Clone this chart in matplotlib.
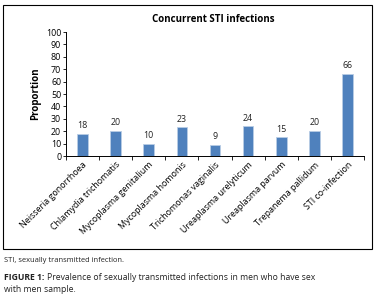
import numpy as np
import matplotlib
matplotlib.use("Agg")
import matplotlib.pyplot as plt
from matplotlib.patches import Rectangle

categories = ["Neisseria gonorrhoea", "Chlamydia trichomatis", "Mycoplasma genitalium",
              "Mycoplasma homonis", "Trichomonas vaginalis", "Ureaplasma urelyticum",
              "Ureaplasma parvum", "Trepanema pallidum", "STI co-infection"]
values = [18, 20, 10, 23, 9, 24, 15, 20, 66]

plt.rcParams['font.family'] = ['Open Sans', 'DejaVu Sans']

fig = plt.figure(figsize=(3.8, 3.0), dpi=100)
ax = fig.add_axes([66/380, 1 - 156/300, (364-66)/380, (156-32)/300])

x = np.arange(len(values))
bars = ax.bar(x, values, width=0.32, color='#4F81BD', edgecolor='#B9CDE5', linewidth=0.6)
for xi, v in zip(x, values):
    ax.text(xi, v + 3, str(v), ha='center', va='bottom', fontsize=6.4, color='#222222')

ax.set_xlim(-0.5, len(values) - 0.5)
ax.set_ylim(0, 100)
ax.set_yticks(range(0, 101, 10))
ax.tick_params(axis='y', labelsize=6.4, length=2.5, width=0.6, pad=1)
ax.set_xticks(x)
ax.set_xticklabels(categories, rotation=45, ha='right', rotation_mode='anchor', fontsize=6.4)
ax.tick_params(axis='x', length=0, pad=3)
# boundary ticks between categories
ax.set_xticks(np.arange(-0.5, len(values), 1), minor=True)
ax.tick_params(axis='x', which='minor', length=3, width=0.6)
for s in ['top', 'right']:
    ax.spines[s].set_visible(False)
for s in ['left', 'bottom']:
    ax.spines[s].set_linewidth(0.7)

ax.set_ylabel('Proportion', fontsize=7, fontweight='bold', labelpad=3)
fig.text(213/380, 1 - 20/300, 'Concurrent STI infections', ha='center', va='center',
         fontsize=7, fontweight='bold')

# chart border
fig.patches.append(Rectangle((3/380, 1 - 249/300), (372-3)/380, (249-5)/300,
                             transform=fig.transFigure, fill=False,
                             edgecolor='black', linewidth=0.8))

fig.text(4/380, 1 - 261/300, 'STI, sexually transmitted infection.', fontsize=5.4,
         va='center', color='#222222')
lab = fig.text(4/380, 1 - 277/300, 'FIGURE 1:', fontsize=6.2, fontweight='bold',
               va='center', color='#222222')
fig.canvas.draw()
bb = lab.get_window_extent()
fig.text((bb.x1 + 3) / 380, 1 - 277/300,
         'Prevalence of sexually transmitted infections in men who have sex',
         fontsize=6.2, va='center', color='#222222')
fig.text(4/380, 1 - 290/300, 'with men sample.', fontsize=6.2, va='center', color='#222222')

fig.savefig('out.png', dpi=100)
